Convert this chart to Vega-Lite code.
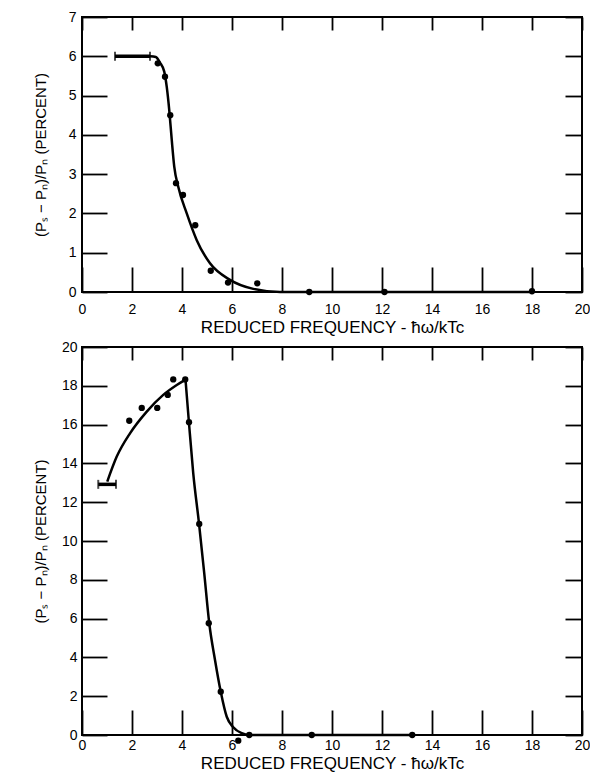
{
  "$schema": "https://vega.github.io/schema/vega-lite/v6.json",
  "background": "white",
  "padding": {"left": 32, "top": 9, "right": 0, "bottom": 0},
  "spacing": 55,
  "bounds": "flush",
  "config": {
    "view": {"stroke": "black", "strokeWidth": 2},
    "font": "Liberation Sans",
    "axis": {
      "grid": false, "domain": false, "tickColor": "black", "tickWidth": 1.8,
      "labelColor": "black", "labelFont": "Liberation Sans", "labelFontSize": 14,
      "titleFont": "Liberation Sans", "titleFontSize": 17, "titleFontWeight": "normal",
      "titleColor": "black", "labelFlush": false, "labelOverlap": false
    }
  },
  "datasets": {
    "tin_points": [
      {"f": 3.03, "p": 5.82}, {"f": 3.32, "p": 5.48}, {"f": 3.53, "p": 4.5}, {"f": 3.76, "p": 2.77},
      {"f": 4.04, "p": 2.47}, {"f": 4.53, "p": 1.7}, {"f": 5.15, "p": 0.54}, {"f": 5.84, "p": 0.24},
      {"f": 7.01, "p": 0.22}, {"f": 9.09, "p": 0}, {"f": 12.1, "p": 0}, {"f": 18.0, "p": 0.02}
    ],
    "tin_curve": [
      {"f": 2.72, "p": 6.0}, {"f": 2.95, "p": 5.98}, {"f": 3.12, "p": 5.84}, {"f": 3.29, "p": 5.61},
      {"f": 3.39, "p": 5.22}, {"f": 3.49, "p": 4.63}, {"f": 3.59, "p": 3.87}, {"f": 3.69, "p": 3.19},
      {"f": 3.85, "p": 2.68}, {"f": 4.19, "p": 2.0}, {"f": 4.59, "p": 1.32}, {"f": 5.12, "p": 0.73},
      {"f": 5.92, "p": 0.31}, {"f": 6.85, "p": 0.08}, {"f": 7.92, "p": 0.0}, {"f": 18.0, "p": 0.0}
    ],
    "tin_err": [{"lo": 1.32, "hi": 2.72, "p": 6.0}],
    "lead_points": [
      {"f": 1.89, "p": 16.2}, {"f": 2.39, "p": 16.86}, {"f": 3.01, "p": 16.86}, {"f": 3.43, "p": 17.53},
      {"f": 3.65, "p": 18.33}, {"f": 4.13, "p": 18.33}, {"f": 4.28, "p": 16.12}, {"f": 4.69, "p": 10.88},
      {"f": 5.07, "p": 5.76}, {"f": 5.55, "p": 2.23}, {"f": 6.25, "p": -0.29}, {"f": 6.69, "p": 0},
      {"f": 9.19, "p": 0}, {"f": 13.21, "p": 0}
    ],
    "lead_curve": [
      {"seg": "rise", "f": 1.01, "p": 13.06}, {"seg": "rise", "f": 1.39, "p": 14.35}, {"seg": "rise", "f": 1.92, "p": 15.55},
      {"seg": "rise", "f": 2.59, "p": 16.67}, {"seg": "rise", "f": 3.25, "p": 17.53}, {"seg": "rise", "f": 3.79, "p": 18.04},
      {"seg": "rise", "f": 4.14, "p": 18.32},
      {"seg": "fall", "f": 4.14, "p": 18.32}, {"seg": "fall", "f": 4.28, "p": 16.07}, {"seg": "fall", "f": 4.45, "p": 13.49},
      {"seg": "fall", "f": 4.68, "p": 10.91}, {"seg": "fall", "f": 4.89, "p": 8.33}, {"seg": "fall", "f": 5.09, "p": 5.76},
      {"seg": "fall", "f": 5.32, "p": 3.87}, {"seg": "fall", "f": 5.55, "p": 2.23}, {"seg": "fall", "f": 5.79, "p": 0.94},
      {"seg": "fall", "f": 6.05, "p": 0.4}, {"seg": "fall", "f": 6.39, "p": 0.09}, {"seg": "fall", "f": 6.69, "p": 0},
      {"seg": "fall", "f": 13.21, "p": 0}
    ],
    "lead_err": [{"lo": 0.65, "hi": 1.36, "p": 12.92}]
  },
  "vconcat": [
    {
      "width": 500, "height": 275,
      "resolve": {"axis": {"x": "independent", "y": "independent"}},
      "layer": [
        {
          "data": {"name": "tin_curve"},
          "mark": {"type": "line", "color": "black", "strokeWidth": 2.5, "interpolate": "monotone"},
          "encoding": {
            "x": {"field": "f", "type": "quantitative", "scale": {"domain": [0, 20], "nice": false},
              "axis": {"orient": "bottom", "values": [0,2,4,6,8,10,12,14,16,18,20], "tickSize": -25, "labelPadding": 35,
                "title": "REDUCED FREQUENCY - ħω/kTc", "titlePadding": 3}},
            "y": {"field": "p", "type": "quantitative", "scale": {"domain": [0, 7], "nice": false},
              "axis": {"orient": "left", "values": [0,1,2,3,4,5,6,7], "tickSize": -25, "labelPadding": 31,
                "minExtent": 28, "maxExtent": 28, "titlePadding": 6, "titleFontSize": 15,
                "title": "(Pₛ − Pₙ)/Pₙ   (PERCENT)"}}
          }
        },
        {
          "data": {"name": "tin_points"},
          "mark": {"type": "point", "filled": true, "color": "black", "size": 40, "opacity": 1},
          "encoding": {
            "x": {"field": "f", "type": "quantitative", "scale": {"domain": [0, 20], "nice": false},
              "axis": {"orient": "top", "values": [0,2,4,6,8,10,12,14,16,18,20], "tickSize": -13, "labels": false, "title": null, "minExtent": 0, "maxExtent": 0}},
            "y": {"field": "p", "type": "quantitative", "scale": {"domain": [0, 7], "nice": false},
              "axis": {"orient": "right", "values": [0,1,2,3,4,5,6,7], "tickSize": -17, "labels": false, "title": null, "minExtent": 0, "maxExtent": 0}}
          }
        },
        {
          "data": {"name": "tin_err"},
          "mark": {"type": "errorbar", "color": "black", "rule": {"strokeWidth": 3.5}, "ticks": {"size": 9, "thickness": 2}},
          "encoding": {
            "x": {"field": "lo", "type": "quantitative", "scale": {"domain": [0, 20], "nice": false}, "axis": null},
            "x2": {"field": "hi"},
            "y": {"field": "p", "type": "quantitative", "scale": {"domain": [0, 7], "nice": false}, "axis": null}
          }
        },
        {
          "mark": {"type": "text", "text": "TIN", "fontSize": 18, "font": "Liberation Sans", "color": "black", "baseline": "middle", "align": "center"},
          "encoding": {
            "x": {"datum": 12.8, "type": "quantitative", "scale": {"domain": [0, 20], "nice": false}, "axis": null},
            "y": {"datum": 4.27, "type": "quantitative", "scale": {"domain": [0, 7], "nice": false}, "axis": null}
          }
        },
        {
          "mark": {"type": "rule", "color": "black", "strokeWidth": 2},
          "encoding": {
            "x": {"datum": 12.0, "type": "quantitative", "scale": {"domain": [0, 20], "nice": false}, "axis": null},
            "x2": {"datum": 13.7},
            "y": {"datum": 3.97, "type": "quantitative", "scale": {"domain": [0, 7], "nice": false}, "axis": null}
          }
        }
      ]
    },
    {
      "width": 500, "height": 388,
      "resolve": {"axis": {"x": "independent", "y": "independent"}},
      "layer": [
        {
          "data": {"name": "lead_curve"},
          "mark": {"type": "line", "color": "black", "strokeWidth": 2.5, "interpolate": "monotone"},
          "encoding": {
            "detail": {"field": "seg", "type": "nominal"},
            "x": {"field": "f", "type": "quantitative", "scale": {"domain": [0, 20], "nice": false},
              "axis": {"orient": "bottom", "values": [0,2,4,6,8,10,12,14,16,18,20], "tickSize": -25, "labelPadding": 28,
                "title": "REDUCED FREQUENCY - ħω/kTc", "titlePadding": 3}},
            "y": {"field": "p", "type": "quantitative", "scale": {"domain": [0, 20], "nice": false},
              "axis": {"orient": "left", "values": [0,2,4,6,8,10,12,14,16,18,20], "tickSize": -25, "labelPadding": 30,
                "minExtent": 28, "maxExtent": 28, "titlePadding": 6, "titleFontSize": 15,
                "title": "(Pₛ − Pₙ)/Pₙ   (PERCENT)"}}
          }
        },
        {
          "data": {"name": "lead_points"},
          "mark": {"type": "point", "filled": true, "color": "black", "size": 40, "opacity": 1},
          "encoding": {
            "x": {"field": "f", "type": "quantitative", "scale": {"domain": [0, 20], "nice": false},
              "axis": {"orient": "top", "values": [0,2,4,6,8,10,12,14,16,18,20], "tickSize": -13, "labels": false, "title": null, "minExtent": 0, "maxExtent": 0}},
            "y": {"field": "p", "type": "quantitative", "scale": {"domain": [0, 20], "nice": false},
              "axis": {"orient": "right", "values": [0,2,4,6,8,10,12,14,16,18,20], "tickSize": -17, "labels": false, "title": null, "minExtent": 0, "maxExtent": 0}}
          }
        },
        {
          "data": {"name": "lead_err"},
          "mark": {"type": "errorbar", "color": "black", "rule": {"strokeWidth": 3.5}, "ticks": {"size": 9, "thickness": 2}},
          "encoding": {
            "x": {"field": "lo", "type": "quantitative", "scale": {"domain": [0, 20], "nice": false}, "axis": null},
            "x2": {"field": "hi"},
            "y": {"field": "p", "type": "quantitative", "scale": {"domain": [0, 20], "nice": false}, "axis": null}
          }
        },
        {
          "mark": {"type": "text", "text": "LEAD", "fontSize": 18, "font": "Liberation Sans", "color": "black", "baseline": "middle", "align": "center"},
          "encoding": {
            "x": {"datum": 12.8, "type": "quantitative", "scale": {"domain": [0, 20], "nice": false}, "axis": null},
            "y": {"datum": 14.0, "type": "quantitative", "scale": {"domain": [0, 20], "nice": false}, "axis": null}
          }
        },
        {
          "mark": {"type": "rule", "color": "black", "strokeWidth": 2},
          "encoding": {
            "x": {"datum": 11.56, "type": "quantitative", "scale": {"domain": [0, 20], "nice": false}, "axis": null},
            "x2": {"datum": 14.04},
            "y": {"datum": 13.35, "type": "quantitative", "scale": {"domain": [0, 20], "nice": false}, "axis": null}
          }
        }
      ]
    }
  ]
}
